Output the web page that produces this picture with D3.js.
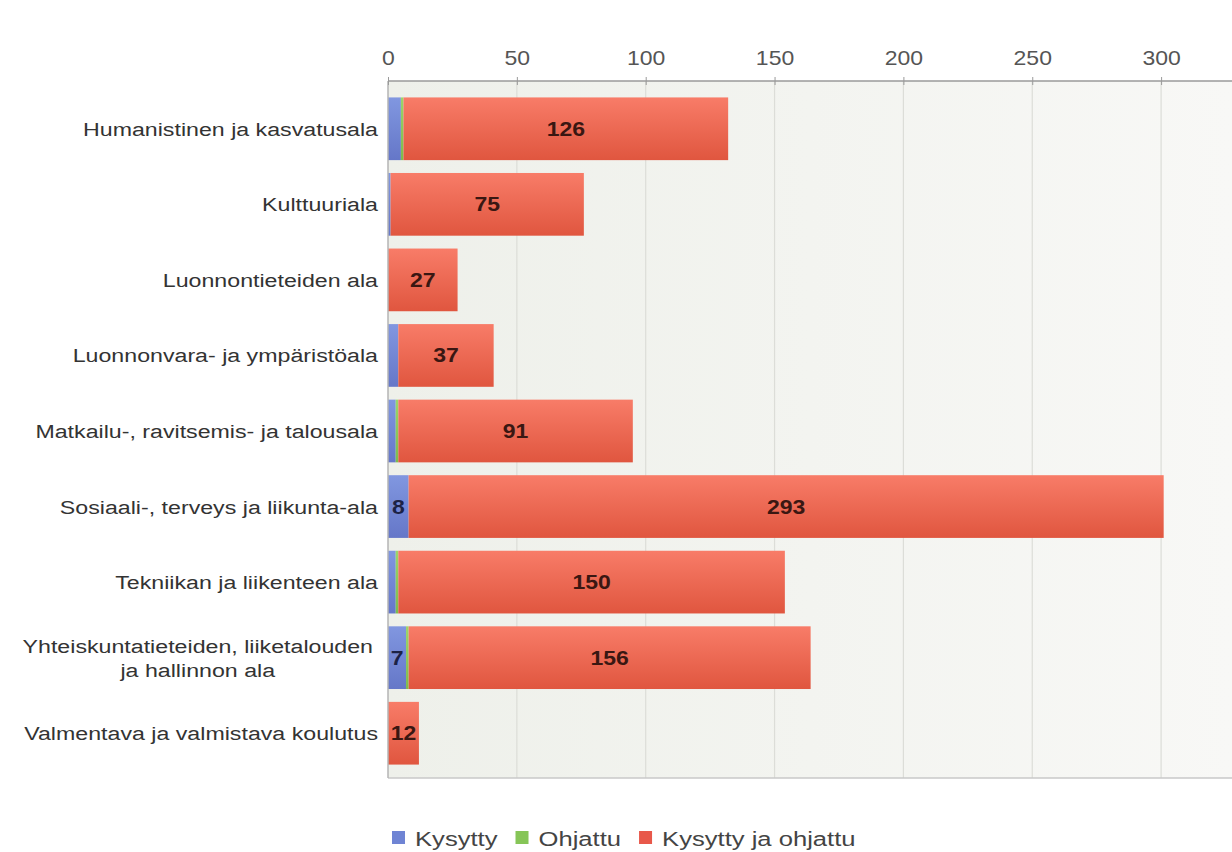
<!DOCTYPE html>
<html>
<head>
<meta charset="utf-8">
<script src="https://cdn.jsdelivr.net/npm/d3@7"></script>
<style>
  body { margin: 0; background: #fff; }
  svg { display: block; overflow: hidden; }
  text { font-family: "Liberation Sans", Arial, sans-serif; }
</style>
</head>
<body>
<div id="chart"></div>
<script>
// data
var categories = [
  ["Humanistinen ja kasvatusala"],
  ["Kulttuuriala"],
  ["Luonnontieteiden ala"],
  ["Luonnonvara- ja ympäristöala"],
  ["Matkailu-, ravitsemis- ja talousala"],
  ["Sosiaali-, terveys ja liikunta-ala"],
  ["Tekniikan ja liikenteen ala"],
  ["Yhteiskuntatieteiden, liiketalouden", "ja hallinnon ala"],
  ["Valmentava ja valmistava koulutus"]
]
var kysytty = [5, 1, 0, 4, 3, 8, 3, 7, 0]
var ohjattu = [1, 0, 0, 0, 1, 0, 1, 1, 0]
var molemmat = [126, 75, 27, 37, 91, 293, 150, 156, 12]
var series_names = ["Kysytty", "Ohjattu", "Kysytty ja ohjattu"]
var ticks = [0, 50, 100, 150, 200, 250, 300]

var w = 1232, h = 852
var left = 388, top_y = 81, bottom_y = 778

var svg = d3.select("#chart").append("svg").attr("width", w).attr("height", h)

// the original text is a bit stretched sideways
var stretchText = function(parent, px, py, sx) {
  return parent.append("g").attr("transform", "translate(" + px + "," + py + ") scale(" + sx + ",1)").append("text")
}

var defs = svg.append("defs")
var grads = [["gBlue", "#8197e0", "#6577c8"], ["gGreen", "#9bd66a", "#7dbb4c"], ["gRed", "#f87c68", "#e0563f"]]
grads.forEach(function(g){
  var lg = defs.append("linearGradient").attr("id", g[0]).attr("x1", 0).attr("y1", 0).attr("x2", 0).attr("y2", 1)
  lg.append("stop").attr("offset", "0%").attr("stop-color", g[1])
  lg.append("stop").attr("offset", "100%").attr("stop-color", g[2])
})
var bg = defs.append("linearGradient").attr("id", "gBg").attr("x1", 0).attr("y1", 0).attr("x2", 1).attr("y2", 0)
bg.append("stop").attr("offset", "0%").attr("stop-color", "#eef0ea")
bg.append("stop").attr("offset", "100%").attr("stop-color", "#f8f8f6")

var x = d3.scaleLinear().domain([0, 350]).range([left, left + 350 * 2.577])
var y = d3.scaleBand().domain(d3.range(categories.length)).range([91, 771]).paddingInner(0.17).paddingOuter(0.085)

// plot background
svg.append("rect").attr("x", left).attr("y", top_y).attr("width", w - left).attr("height", bottom_y - top_y)
  .attr("fill", "url(#gBg)")

// grid
svg.selectAll(".grid").data(ticks.slice(1)).enter().append("line")
  .attr("x1", function(d){ return x(d) }).attr("x2", function(d){ return x(d) })
  .attr("y1", top_y).attr("y2", bottom_y)
  .attr("stroke", "#dcddd8").attr("stroke-width", 1.2)

// bottom line
svg.append("line").attr("x1", left).attr("x2", w).attr("y1", bottom_y).attr("y2", bottom_y)
  .attr("stroke", "#c8c8c8").attr("stroke-width", 1.5)

// stacked bars
var stackData = categories.map(function(c, i){ return { i: i, vals: [kysytty[i], ohjattu[i], molemmat[i]] } })
var fills = ["url(#gBlue)", "url(#gGreen)", "url(#gRed)"]
stackData.forEach(function(d){
  var x0 = 0
  d.vals.forEach(function(v, k){
    if (v > 0) {
      svg.append("rect")
        .attr("x", x(x0)).attr("y", y(d.i))
        .attr("width", x(x0 + v) - x(x0)).attr("height", y.bandwidth())
        .attr("fill", fills[k])
      if (x(x0 + v) - x(x0) > 15) {
        stretchText(svg, (x(x0) + x(x0 + v)) / 2, y(d.i) + y.bandwidth() / 2 + 7, 1.15)
          .attr("text-anchor", "middle")
          .attr("font-size", 20).attr("font-weight", "bold")
          .attr("fill", k == 0 ? "#1c2246" : "#3a1712")
          .text(v)
      }
    }
    x0 += v
  })
})

// left axis line
svg.append("line").attr("x1", left).attr("x2", left).attr("y1", top_y).attr("y2", bottom_y)
  .attr("stroke", "#b4b4b4").attr("stroke-width", 1.5)

// top axis
var axis = svg.append("g").attr("transform", "translate(0," + top_y + ")")
  .call(d3.axisTop(x).tickValues(ticks).tickSize(0).tickPadding(0))
axis.select(".domain").attr("stroke", "#9a9a9a").attr("stroke-width", 1.5).attr("d", "M" + left + ",0H" + w)
axis.selectAll(".tick text").remove()
axis.selectAll(".tick").append("line").attr("y1", -4).attr("y2", 4).attr("stroke", "#9a9a9a")
axis.selectAll(".tick").each(function(d){
  stretchText(d3.select(this), 0, -16, 1.15)
    .attr("text-anchor", "middle").attr("font-size", 20).attr("fill", "#555")
    .text(d)
})

// category labels
categories.forEach(function(c, i){
  var sx = 1.22
  var cy = y(i) + y.bandwidth() / 2
  var lh = 24
  var texts = c.map(function(line, j){
    return stretchText(svg, 378, cy + 7 + (j - (c.length - 1) / 2) * lh, sx)
      .attr("text-anchor", "end").attr("font-size", 19).attr("fill", "#333")
      .text(line)
  })
  if (c.length > 1) {
    var wide = texts[0].node().getComputedTextLength()
    texts.forEach(function(t){
      var tw = t.node().getComputedTextLength()
      t.attr("x", -(wide - tw) / 2 - 5 / sx)
    })
  }
})

// legend
var colors = ["#6f84d4", "#86c557", "#e8584a"]
var lg = svg.append("g").attr("transform", "translate(392,838)")
var lx = 0
series_names.forEach(function(n, k){
  lg.append("rect").attr("x", lx).attr("y", -7).attr("width", 13).attr("height", 13).attr("fill", colors[k])
  var tt = stretchText(lg, lx + 23, 8, 1.22).attr("font-size", 21).attr("fill", "#444").text(n)
  lx += 23 + tt.node().getComputedTextLength() * 1.22 + 18
})
</script>
</body>
</html>
